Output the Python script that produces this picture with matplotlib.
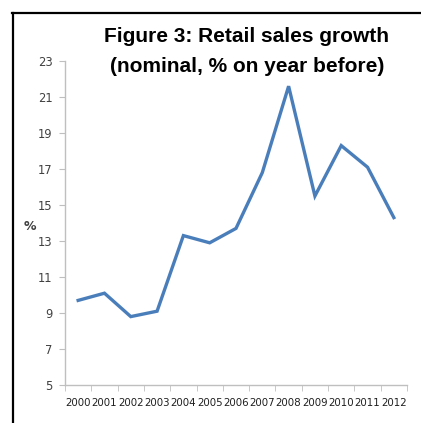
import matplotlib.pyplot as plt
from matplotlib.lines import Line2D

years = ["2000", "2001", "2002", "2003", "2004", "2005", "2006",
         "2007", "2008", "2009", "2010", "2011", "2012"]
growth = [9.7, 10.1, 8.8, 9.1, 13.3, 12.9, 13.7, 16.8, 21.6, 15.5, 18.3, 17.1, 14.3]
y_ticks = [5, 7, 9, 11, 13, 15, 17, 19, 21, 23]

W, H = 421, 423
fig = plt.figure(figsize=(W / 100, H / 100), dpi=100)
ax = fig.add_axes([65 / W, (H - 385) / H, (407 - 65) / W, (385 - 61) / H])

x = list(range(len(years)))
ax.plot(x, growth, color="#4a7ebb", lw=2.4, solid_joinstyle="miter")

ax.set_xlim(-0.5, len(years) - 0.5)
ax.set_ylim(5, 23)
ax.set_yticks(y_ticks)
ax.set_xticks(x)
ax.set_xticklabels(years)
ax.set_xticks([i - 0.5 for i in range(len(years) + 1)], minor=True)

tick_font = ["Liberation Sans Narrow", "DejaVu Sans"]
ax.tick_params(axis="x", which="major", length=0, pad=9, labelsize=7.4, colors="#202020")
ax.tick_params(axis="x", which="minor", length=4, color="#bfbfbf", direction="out")
ax.tick_params(axis="y", length=4, color="#bfbfbf", direction="out", pad=5,
               labelsize=8.3, labelcolor="#404040")
for lab in ax.get_xticklabels() + ax.get_yticklabels():
    lab.set_family(tick_font)

for side in ("top", "right"):
    ax.spines[side].set_visible(False)
for side in ("left", "bottom"):
    ax.spines[side].set_color("#bfbfbf")
    ax.spines[side].set_linewidth(1)

fig.text(30 / W, 1 - 226 / H, "%", ha="center", va="center", fontsize=9,
         fontweight="bold", color="#404040", family=tick_font)

fig.text(247 / W, 1 - 37 / H, "Figure 3: Retail sales growth", ha="center", va="center",
         fontsize=15, fontweight="bold", family="Liberation Sans")
fig.text(247 / W, 1 - 66 / H, "(nominal, % on year before)", ha="center", va="center",
         fontsize=15, fontweight="bold", family="Liberation Sans")

# black box around the figure
fig.add_artist(Line2D([12.5 / W, 12.5 / W], [0, 1 - 13 / H], color="black", lw=1.6,
                      transform=fig.transFigure))
fig.add_artist(Line2D([12 / W, 1], [1 - 13 / H, 1 - 13 / H], color="black", lw=1.6,
                      transform=fig.transFigure))

fig.savefig("out.png", dpi=100)
